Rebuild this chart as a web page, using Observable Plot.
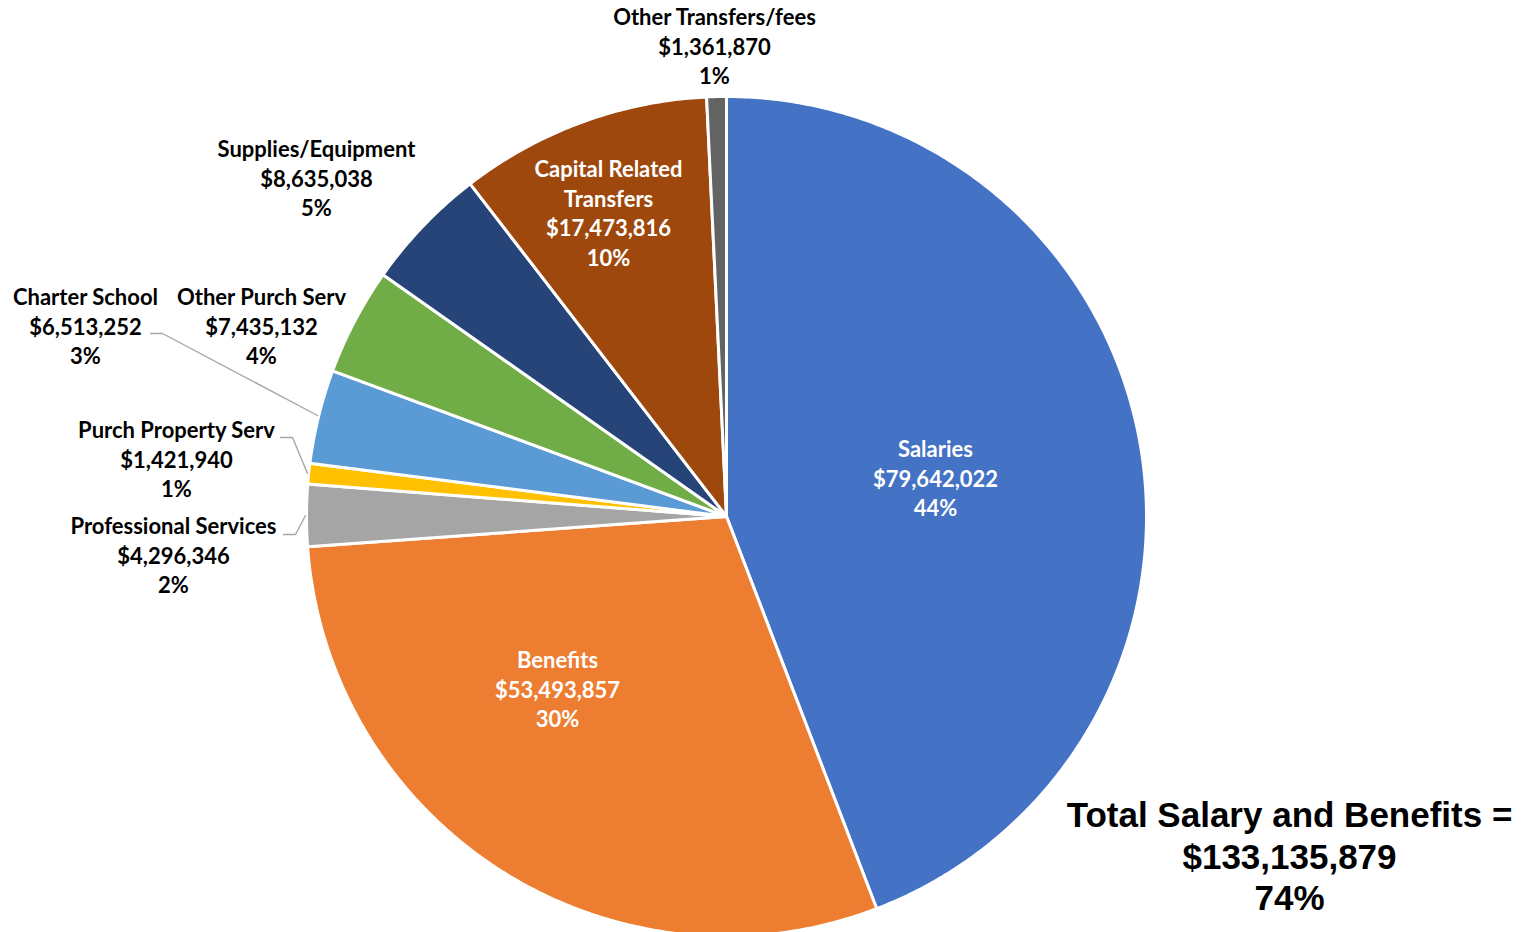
<!DOCTYPE html>
<html><head><meta charset="utf-8">
<script src="https://cdn.jsdelivr.net/npm/d3@7"></script>
<script src="https://cdn.jsdelivr.net/npm/@observablehq/plot@0.6"></script>
<style>html,body{margin:0;padding:0;background:#fff;overflow:hidden;}</style>
</head><body><div id="chart"></div>
<script>
// ---- data ----
const categories = ["Salaries","Benefits","Professional Services","Purch Property Serv","Charter School","Other Purch Serv","Supplies/Equipment","Capital Related Transfers","Other Transfers/fees"];
const values = [79642022, 53493857, 4296346, 1421940, 6513252, 7435132, 8635038, 17473816, 1361870];
const percentLabels = ["44%","30%","2%","1%","3%","4%","5%","10%","1%"];
const totalLines = ["Total Salary and Benefits =", "$133,135,879", "74%"];

// ---- styles & layout ----
const sliceColors = ["#4472C4","#ED7D31","#A5A5A5","#FFC000","#5B9BD5","#70AD47","#264478","#9E480E","#636363"];
const W = 1522, H = 932, cx = 726, cy = 516, R = 420;
const insideLabel = [true,true,false,false,false,false,false,true,false];
const displayNames = {"Capital Related Transfers": "Capital Related\nTransfers"};
const labelPos = [[935,477],[557,688],[173,554],[176,458],[85,325],[261,325],[316,177],[608,211.5],[714,45]];
const leaderPaths = [null,null,[[283,534],[295,534],[305,515]],[[280,437],[292,437],[307,473]],[[150,333],[162,333],[317,415]],null,null,null,null];
const totalPos = [1289, 855];

// ---- derived geometry from values ----
const total = d3.sum(values);
let acc = 0;
const sliceRows = [];
values.forEach((v, i) => {
  const a0 = acc / total * 2 * Math.PI, a1 = (acc + v) / total * 2 * Math.PI;
  acc += v;
  sliceRows.push({cat: categories[i], x: cx, y: cy});
  const n = Math.max(2, Math.ceil((a1 - a0) / (Math.PI / 360)));
  for (let k = 0; k <= n; k++) {
    const a = a0 + (a1 - a0) * k / n;
    sliceRows.push({cat: categories[i], x: cx + R * Math.sin(a), y: cy - R * Math.cos(a)});
  }
});

const fmt = d3.format("$,");
const labelRows = categories.map((c, i) => ({
  text: (displayNames[c] || c) + "\n" + fmt(values[i]) + "\n" + percentLabels[i],
  x: labelPos[i][0], y: labelPos[i][1], inside: insideLabel[i]
}));
const leaderRows = [];
leaderPaths.forEach((p, i) => { if (p) p.forEach(([x, y]) => leaderRows.push({cat: categories[i], x, y})); });

const marks = categories.map((c, i) =>
  Plot.line(sliceRows.filter(d => d.cat === c), {x: "x", y: "y", fill: sliceColors[i], stroke: "white", strokeWidth: 3, strokeLinejoin: "round", curve: "linear-closed"})
);
marks.push(Plot.line(leaderRows, {x: "x", y: "y", z: "cat", stroke: "#A6A6A6", strokeWidth: 1.4}));
const textOpts = {x: "x", y: "y", text: "text", fontWeight: "bold", fontSize: 22, lineHeight: 1.34, fontFamily: "Lato, 'Open Sans', sans-serif"};
marks.push(Plot.text(labelRows.filter(d => d.inside), {...textOpts, fill: "white"}));
marks.push(Plot.text(labelRows.filter(d => !d.inside), {...textOpts, fill: "black"}));
marks.push(Plot.text([{x: totalPos[0], y: totalPos[1], text: totalLines.join("\n")}], {x: "x", y: "y", text: "text", fontWeight: "bold", fontSize: 35, lineHeight: 1.186, fontFamily: "'Liberation Sans', Arial, sans-serif", fill: "black"}));

const chart = Plot.plot({
  width: W, height: H, margin: 0,
  x: {domain: [0, W], range: [0, W], axis: null},
  y: {domain: [0, H], range: [0, H], axis: null},
  style: {background: "white"},
  marks
});
document.getElementById("chart").appendChild(chart);
</script>
</body></html>
